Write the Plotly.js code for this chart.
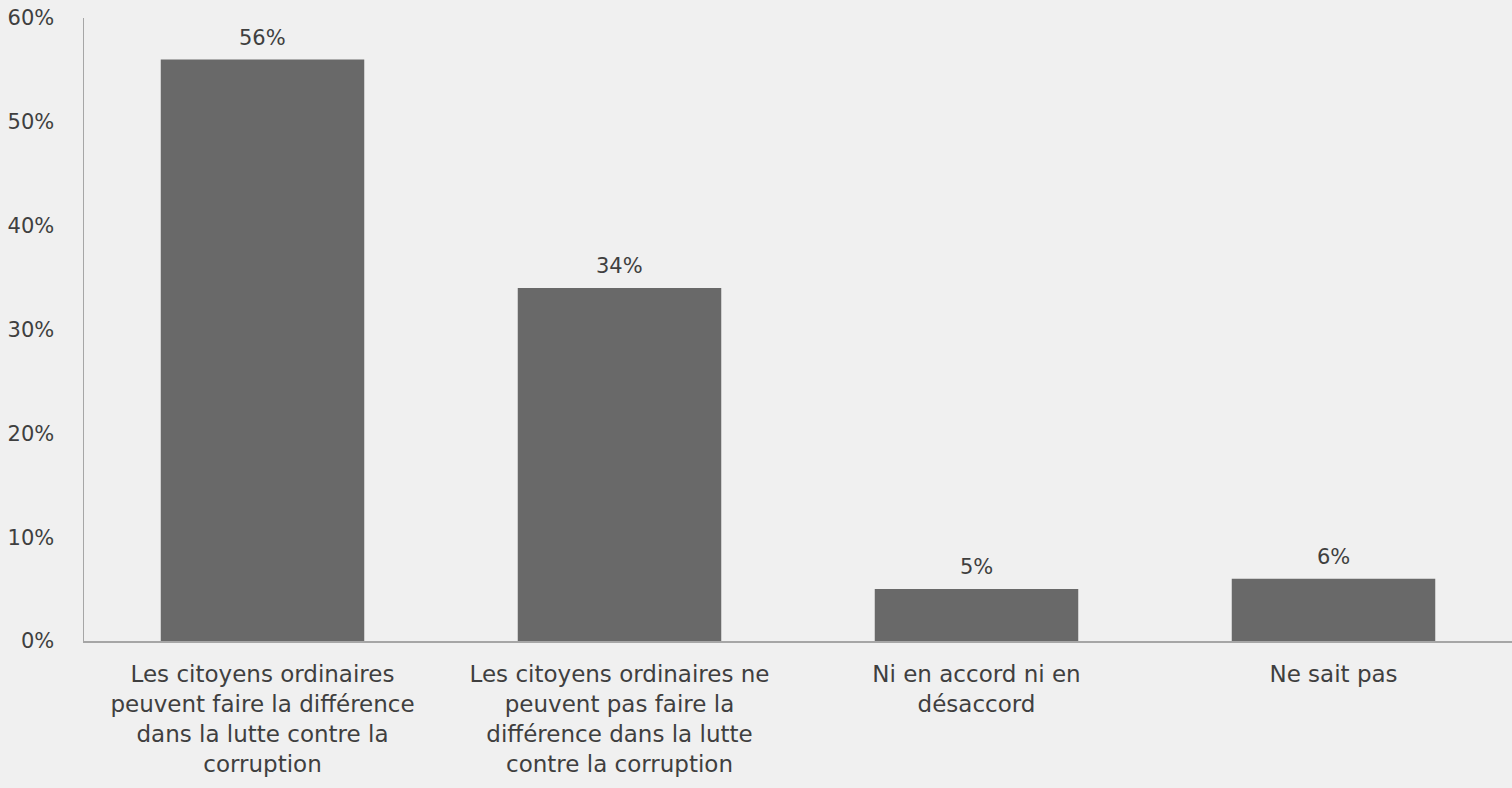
<!DOCTYPE html>
<html>
<head>
<meta charset="utf-8">
<script src="https://cdn.plot.ly/plotly-3.0.1.min.js"></script>
<style>
html,body{margin:0;padding:0;background:#f0f0f0;}
#chart{width:1512px;height:788px;}
</style>
</head>
<body>
<div id="chart"></div>
<script>
const categories = [
  "Les citoyens ordinaires<br>peuvent faire la différence<br>dans la lutte contre la<br>corruption",
  "Les citoyens ordinaires ne<br>peuvent pas faire la<br>différence dans la lutte<br>contre la corruption",
  "Ni en accord ni en<br>désaccord",
  "Ne sait pas"
];
const values = [56, 34, 5, 6];
const valueLabels = ["56%", "34%", "5%", "6%"];
const yTicks = [0, 10, 20, 30, 40, 50, 60];
const yTickLabels = ["0%", "10%", "20%", "30%", "40%", "50%", "60%"];

const fontFamily = "'DejaVu Sans', sans-serif";
const textColor = "#3f3f3f";

const trace = {
  type: "bar",
  x: categories,
  y: values,
  marker: {color: "#696969", line: {width: 0}},
  hoverinfo: "none"
};

const annotations = categories.map((c, i) => ({
  x: c,
  y: values[i],
  text: valueLabels[i],
  showarrow: false,
  xref: "x",
  yref: "y",
  yanchor: "bottom",
  yshift: 8,
  font: {family: fontFamily, size: 21, color: textColor}
}));

const layout = {
  width: 1512,
  height: 788,
  margin: {l: 84, r: 0, t: 18, b: 147},
  paper_bgcolor: "#f0f0f0",
  plot_bgcolor: "#f0f0f0",
  bargap: 0.43,
  showlegend: false,
  font: {family: fontFamily, size: 21, color: textColor},
  annotations: annotations,
  xaxis: {
    type: "category",
    showline: true,
    linecolor: "#a6a6a6",
    linewidth: 1.5,
    showgrid: false,
    zeroline: false,
    ticks: "",
    tickfont: {family: fontFamily, size: 23, color: textColor},
    ticklabelstandoff: 12,
    automargin: false
  },
  yaxis: {
    range: [0, 60],
    tickvals: yTicks,
    ticktext: yTickLabels,
    showline: true,
    linecolor: "#a6a6a6",
    linewidth: 1.5,
    showgrid: false,
    zeroline: false,
    ticks: "",
    tickfont: {family: fontFamily, size: 21, color: textColor},
    ticklabelstandoff: 24,
    automargin: false
  }
};

Plotly.newPlot("chart", [trace], layout, {displayModeBar: false, staticPlot: true});
</script>
</body>
</html>
